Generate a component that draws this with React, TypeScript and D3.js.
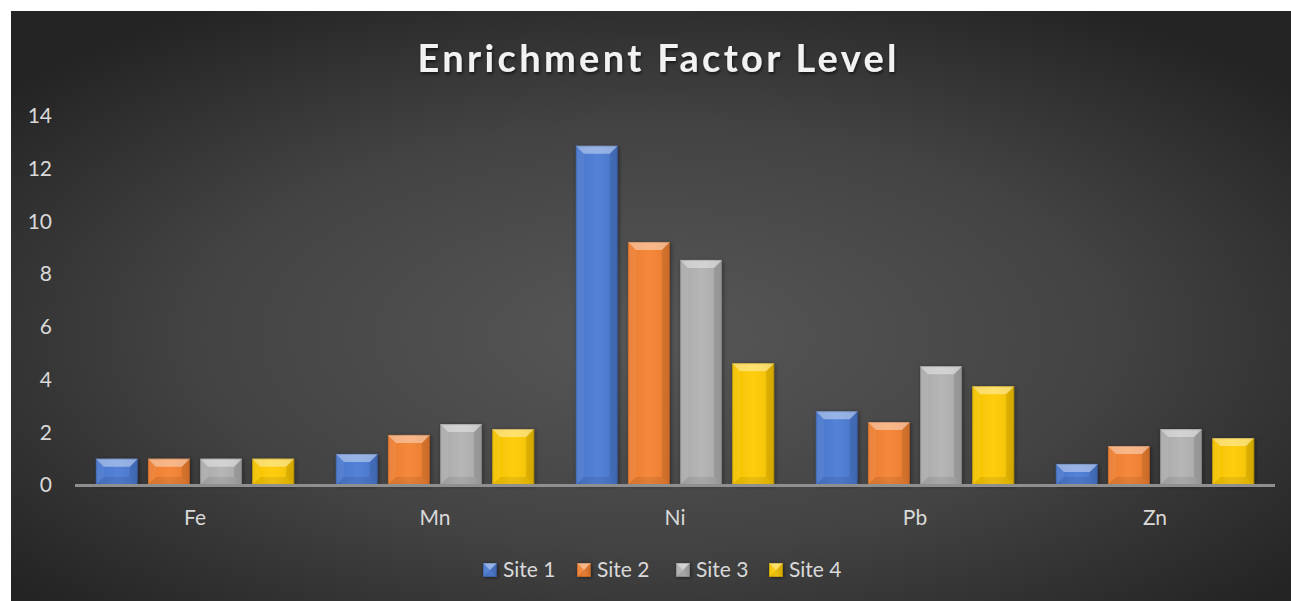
import React from "react";
import * as d3 from "d3";

const categories = ["Fe", "Mn", "Ni", "Pb", "Zn"];
const seriesNames = ["Site 1", "Site 2", "Site 3", "Site 4"];
const site1 = [1.0, 1.18, 12.87, 2.8, 0.8];
const site2 = [1.0, 1.9, 9.22, 2.39, 1.48];
const site3 = [1.0, 2.31, 8.54, 4.51, 2.12];
const site4 = [1.0, 2.12, 4.62, 3.75, 1.78];
const seriesValues = [site1, site2, site3, site4];
const seriesColors = ["#4b7bd5", "#f58231", "#b2b2b2", "#ffcb00"];
const yTicks = [0, 2, 4, 6, 8, 10, 12, 14];
const title = "Enrichment Factor Level";

const W = 1291;
const H = 601;
const FONT = "Lato, 'Open Sans', sans-serif";

function Bar({ x, y, w, h, color }: { x: number; y: number; w: number; h: number; color: string }) {
  const b = Math.max(0, Math.min(8, h / 2, w / 2));
  const top = `${x},${y} ${x + w},${y} ${x + w - b},${y + b} ${x + b},${y + b}`;
  const bottom = `${x},${y + h} ${x + w},${y + h} ${x + w - b},${y + h - b} ${x + b},${y + h - b}`;
  const left = `${x},${y} ${x + b},${y + b} ${x + b},${y + h - b} ${x},${y + h}`;
  const right = `${x + w},${y} ${x + w - b},${y + b} ${x + w - b},${y + h - b} ${x + w},${y + h}`;
  return (
    <g filter="url(#barShadow)">
      <rect x={x} y={y} width={w} height={h} fill={color} />
      <rect x={x} y={y} width={w} height={h} fill="url(#faceGrad)" />
      <polygon points={top} fill="#ffffff" opacity={0.4} />
      <polygon points={left} fill="#ffffff" opacity={0.06} />
      <polygon points={right} fill="#000000" opacity={0.1} />
      <polygon points={bottom} fill="#000000" opacity={0.08} />
      <rect x={x + 0.5} y={y + 0.5} width={Math.max(0, w - 1)} height={Math.max(0, h - 1)} fill="none" stroke="#000" strokeOpacity={0.15} />
    </g>
  );
}

export default function App() {
  const plotLeft = 75;
  const plotRight = 1275;
  const y = d3.scaleLinear().domain([0, 14]).range([485, 116]);
  const x0 = d3.scaleBand<string>().domain(categories).range([plotLeft, plotRight]).paddingInner(0).paddingOuter(0);
  const x1 = d3
    .scaleBand<string>()
    .domain(seriesNames)
    .range([0, x0.bandwidth()])
    .paddingInner(0.195)
    .paddingOuter(0.4);

  const legendX = [483, 577, 676, 769];

  return (
    <div style={{ position: "fixed", left: 0, top: 0 }}>
      <svg width={W} height={H} style={{ display: "block" }}>
        <defs>
          <radialGradient id="bgGrad" cx="50%" cy="55%" r="65%" fx="50%" fy="55%">
            <stop offset="0%" stopColor="#575757" />
            <stop offset="55%" stopColor="#434343" />
            <stop offset="100%" stopColor="#242424" />
          </radialGradient>
          <linearGradient id="faceGrad" x1="0" x2="1" y1="0" y2="0">
            <stop offset="0%" stopColor="#000" stopOpacity={0.05} />
            <stop offset="50%" stopColor="#fff" stopOpacity={0.05} />
            <stop offset="100%" stopColor="#000" stopOpacity={0.08} />
          </linearGradient>
          <filter id="barShadow" x="-20%" y="-20%" width="140%" height="140%">
            <feDropShadow dx="1" dy="1" stdDeviation="2" floodColor="#000" floodOpacity="0.45" />
          </filter>
          <filter id="titleShadow" x="-5%" y="-30%" width="110%" height="160%">
            <feDropShadow dx="1" dy="2" stdDeviation="1.5" floodColor="#000" floodOpacity="0.6" />
          </filter>
        </defs>
        <rect x={0} y={0} width={W} height={H} fill="#ffffff" />
        <rect x={11} y={11} width={W - 11} height={H - 11} fill="url(#bgGrad)" />

        <text
          x={657}
          y={72}
          textAnchor="middle"
          fill="#f2f2f2"
          fontFamily={FONT}
          fontWeight={700}
          fontSize={38}
          textLength={479}
          lengthAdjust="spacing"
          filter="url(#titleShadow)"
        >
          {title}
        </text>

        {yTicks.map((t) => (
          <text
            key={t}
            x={52}
            y={y(t)}
            dy="0.35em"
            textAnchor="end"
            fill="#d9d9d9"
            fontFamily={FONT}
            fontSize={21}
          >
            {t}
          </text>
        ))}

        {categories.map((c, ci) => (
          <g key={c}>
            {seriesNames.map((s, si) => {
              const v = seriesValues[si][ci];
              const bx = (x0(c) ?? 0) + (x1(s) ?? 0);
              const by = y(v);
              return (
                <Bar
                  key={s}
                  x={bx}
                  y={by}
                  w={x1.bandwidth()}
                  h={y(0) - by}
                  color={seriesColors[si]}
                />
              );
            })}
          </g>
        ))}

        <line x1={plotLeft} x2={plotRight} y1={y(0) + 0.5} y2={y(0) + 0.5} stroke="#8f8f8f" strokeWidth={3} />

        {categories.map((c) => (
          <text
            key={c}
            x={(x0(c) ?? 0) + x0.bandwidth() / 2}
            y={518}
            dy="0.35em"
            textAnchor="middle"
            fill="#d9d9d9"
            fontFamily={FONT}
            fontSize={21}
          >
            {c}
          </text>
        ))}

        {seriesNames.map((s, si) => (
          <g key={s}>
            <Bar x={legendX[si]} y={563} w={14} h={14} color={seriesColors[si]} />
            <text
              x={legendX[si] + 20}
              y={570}
              dy="0.35em"
              fill="#d9d9d9"
              fontFamily={FONT}
              fontSize={21}
            >
              {s}
            </text>
          </g>
        ))}
      </svg>
    </div>
  );
}
